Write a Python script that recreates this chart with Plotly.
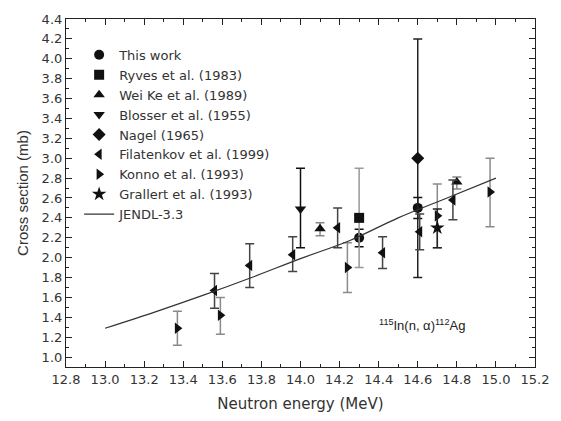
import plotly.graph_objects as go

# ---- data ----
this_E = [14.30, 14.60]
this_y = [2.20, 2.50]
this_hi = [2.285, 2.605]
this_lo = [2.11, 2.394]

ryves_E = [14.30]
ryves_y = [2.40]
ryves_hi = [2.90]
ryves_lo = [1.90]

wei_E = [14.10, 14.80]
wei_y = [2.29, 2.76]
wei_hi = [2.35, 2.81]
wei_lo = [2.22, 2.69]

blosser_E = [14.00]
blosser_y = [2.49]
blosser_hi = [2.90]
blosser_lo = [2.10]

nagel_E = [14.60]
nagel_y = [3.00]
nagel_hi = [4.20]
nagel_lo = [1.80]

fila_E = [13.56, 13.74, 13.96, 14.19, 14.42, 14.61, 14.78]
fila_y = [1.67, 1.92, 2.03, 2.30, 2.05, 2.26, 2.58]
fila_hi = [1.84, 2.14, 2.21, 2.50, 2.21, 2.44, 2.78]
fila_lo = [1.49, 1.70, 1.86, 2.10, 1.89, 2.08, 2.38]

konno_E = [13.37, 13.59, 14.24, 14.70, 14.97]
konno_y = [1.29, 1.42, 1.90, 2.42, 2.66]
konno_hi = [1.46, 1.60, 2.15, 2.74, 3.00]
konno_lo = [1.12, 1.23, 1.65, 2.10, 2.31]

grall_E = [14.70]
grall_y = [2.30]
grall_hi = [2.49]
grall_lo = [2.10]

jendl_E = [13.0, 13.25, 13.5, 13.75, 14.0, 14.25, 14.5, 14.75, 15.0]
jendl_y = [1.29, 1.45, 1.62, 1.80, 1.99, 2.17, 2.40, 2.60, 2.80]

series = [
    ("This work", "circle", this_E, this_y, this_hi, this_lo, "#111111"),
    ("Ryves et al. (1983)", "square", ryves_E, ryves_y, ryves_hi, ryves_lo, "#999999"),
    ("Wei Ke et al. (1989)", "triangle-up", wei_E, wei_y, wei_hi, wei_lo, "#888888"),
    ("Blosser et al. (1955)", "triangle-down", blosser_E, blosser_y, blosser_hi, blosser_lo, "#111111"),
    ("Nagel (1965)", "diamond", nagel_E, nagel_y, nagel_hi, nagel_lo, "#222222"),
    ("Filatenkov et al. (1999)", "triangle-left", fila_E, fila_y, fila_hi, fila_lo, "#444444"),
    ("Konno et al. (1993)", "triangle-right", konno_E, konno_y, konno_hi, konno_lo, "#8a8a8a"),
    ("Grallert et al. (1993)", "star", grall_E, grall_y, grall_hi, grall_lo, "#222222"),
]

WIDE = "DejaVu Sans, Verdana, sans-serif"
NARROW = "Liberation Sans, Arial, sans-serif"

fig = go.Figure()
for name, sym, E, y, hi, lo, ecol in series:
    fig.add_trace(go.Scatter(
        x=E, y=y, mode="markers", name=name,
        marker=dict(symbol=sym, size=10 if sym != "star" else 11, color="#111111"),
        error_y=dict(type="data", symmetric=False,
                     array=[h - v for h, v in zip(hi, y)],
                     arrayminus=[v - l for v, l in zip(y, lo)],
                     color=ecol, thickness=1.5, width=4.5),
    ))

fig.add_trace(go.Scatter(
    x=jendl_E, y=jendl_y, mode="lines", name="JENDL-3.3",
    line=dict(color="#333333", width=1.2, shape="spline"),
))

axis_common = dict(
    showline=True, linecolor="#222222", linewidth=1.2, mirror="ticks",
    ticks="inside", ticklen=6, tickcolor="#222222", tickwidth=1,
    showgrid=False, zeroline=False,
    tickfont=dict(family=WIDE, size=13, color="#333333"),
)

fig.update_layout(
    width=561, height=421,
    margin=dict(l=66, r=20, t=15, b=54),
    paper_bgcolor="white", plot_bgcolor="white",
    font=dict(family=WIDE, color="#333333"),
    showlegend=True,
    legend=dict(x=0.028, y=0.94, xanchor="left", yanchor="top",
                bgcolor="rgba(0,0,0,0)", font=dict(family=WIDE, size=13, color="#333333"),
                tracegroupgap=0, itemwidth=30),
    xaxis=dict(range=[12.8, 15.2], dtick=0.2, tick0=12.8, tickformat=".1f",
               minor=dict(dtick=0.1, ticks="inside", ticklen=3, tickcolor="#222222"),
               title=dict(text="Neutron energy (MeV)", font=dict(family=WIDE, size=15), standoff=12),
               **axis_common),
    yaxis=dict(range=[0.9, 4.4], dtick=0.2, tick0=1.0, tickformat=".1f",
               minor=dict(dtick=0.1, ticks="inside", ticklen=3, tickcolor="#222222"),
               title=dict(text="Cross section (mb)", font=dict(family=NARROW, size=15), standoff=9),
               **axis_common),
    annotations=[dict(
        x=14.62, y=1.32, xref="x", yref="y", showarrow=False,
        text="<sup>115</sup>In(n, α)<sup>112</sup>Ag",
        font=dict(family=NARROW, size=13, color="#222222"),
    )],
)

fig.write_html("out.html")
